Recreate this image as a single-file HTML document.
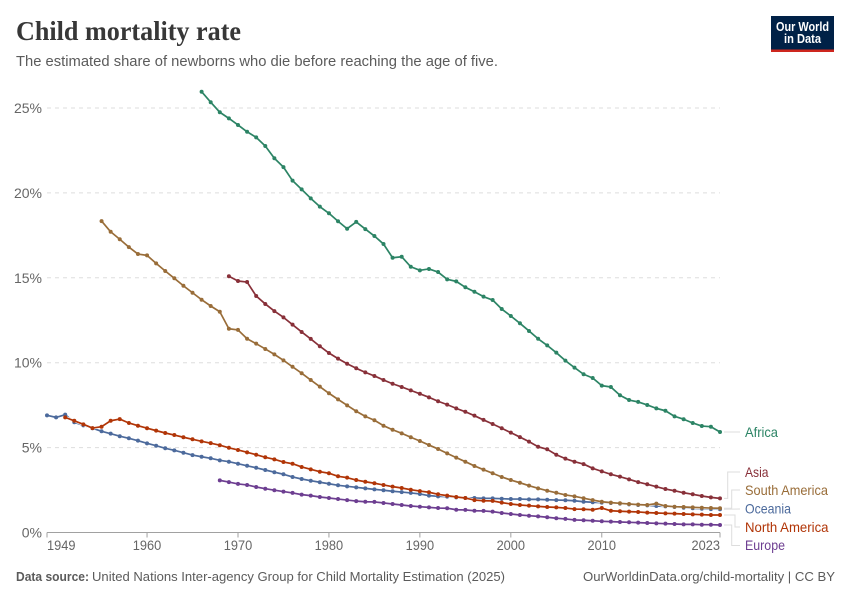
<!DOCTYPE html>
<html lang="en">
<head>
<meta charset="utf-8">
<title>Child mortality rate</title>
<style>
html,body{margin:0;padding:0;background:#fff;}
svg{display:block;font-family:"Liberation Sans",sans-serif;}
</style>
</head>
<body>
<svg id="chart" xmlns="http://www.w3.org/2000/svg" width="850" height="600" viewBox="0 0 850 600">
  <rect x="0" y="0" width="850" height="600" fill="#fff"/>
  <text x="16" y="40" font-family="'Liberation Serif',serif" font-weight="700" font-size="27.5" fill="#373737" textLength="225" lengthAdjust="spacingAndGlyphs">Child mortality rate</text>
  <text x="16" y="66" font-size="14.5" fill="#5b5b5b" textLength="482" lengthAdjust="spacingAndGlyphs">The estimated share of newborns who die before reaching the age of five.</text>
  <g>
    <rect x="771" y="16" width="63" height="36" fill="#002147"/>
    <rect x="771" y="49.5" width="63" height="2.5" fill="#ce261e"/>
    <text x="802.5" y="31" text-anchor="middle" font-size="12.5" font-weight="700" fill="#fff" textLength="53" lengthAdjust="spacingAndGlyphs">Our World</text>
    <text x="802.5" y="43" text-anchor="middle" font-size="12.5" font-weight="700" fill="#fff" textLength="37" lengthAdjust="spacingAndGlyphs">in Data</text>
  </g>
  <g id="grid"></g>
  <g id="xaxis"></g>
  <g id="yaxis"></g>
  <g id="connectors"></g>
  <g id="series"></g>
  <g id="labels"></g>
  <text x="16" y="581" font-size="13" font-weight="700" fill="#5b5b5b" textLength="73" lengthAdjust="spacingAndGlyphs">Data source:</text>
  <text x="92" y="581" font-size="13" fill="#5b5b5b" textLength="413" lengthAdjust="spacingAndGlyphs">United Nations Inter-agency Group for Child Mortality Estimation (2025)</text>
  <text x="583" y="581" font-size="13" fill="#5b5b5b" textLength="252" lengthAdjust="spacingAndGlyphs">OurWorldinData.org/child-mortality | CC BY</text>
</svg>
<script>
const yTicks = [0, 5, 10, 15, 20, 25];
const xTicks = [1949, 1960, 1970, 1980, 1990, 2000, 2010, 2023];

const oceaniaStart = 1949;
const oceaniaValues = [6.9,6.78,6.94,6.49,6.31,6.14,5.96,5.82,5.67,5.55,5.41,5.25,5.11,4.96,4.84,4.7,4.56,4.46,4.37,4.25,4.17,4.05,3.93,3.81,3.68,3.55,3.43,3.27,3.15,3.05,2.96,2.87,2.78,2.72,2.66,2.6,2.54,2.49,2.43,2.38,2.33,2.27,2.17,2.13,2.11,2.07,2.03,2.03,2.01,2.01,1.99,1.97,1.97,1.95,1.95,1.93,1.91,1.9,1.87,1.81,1.78,1.76,1.74,1.7,1.66,1.62,1.6,1.56,1.54,1.5,1.46,1.43,1.4,1.38,1.37];

const europeStart = 1968;
const europeValues = [3.07,2.97,2.86,2.8,2.68,2.58,2.49,2.41,2.33,2.23,2.17,2.09,2.03,1.97,1.91,1.85,1.81,1.8,1.74,1.68,1.62,1.56,1.52,1.48,1.44,1.43,1.34,1.33,1.28,1.27,1.23,1.15,1.09,1.03,0.99,0.95,0.9,0.84,0.8,0.74,0.72,0.69,0.66,0.64,0.62,0.6,0.58,0.56,0.54,0.52,0.5,0.48,0.48,0.46,0.46,0.44];

const northAmericaStart = 1951;
const northAmericaValues = [6.78,6.58,6.37,6.15,6.23,6.58,6.68,6.45,6.29,6.14,6.0,5.86,5.74,5.61,5.49,5.37,5.26,5.14,4.99,4.86,4.72,4.58,4.43,4.31,4.15,4.05,3.86,3.72,3.58,3.49,3.31,3.23,3.09,2.99,2.9,2.8,2.7,2.62,2.52,2.44,2.37,2.25,2.17,2.09,2.03,1.91,1.87,1.86,1.76,1.68,1.62,1.58,1.54,1.5,1.48,1.44,1.38,1.37,1.34,1.44,1.28,1.25,1.23,1.21,1.17,1.15,1.13,1.11,1.09,1.07,1.05,1.03,1.03];

const southAmericaStart = 1955;
const southAmericaValues = [18.34,17.71,17.27,16.81,16.4,16.32,15.85,15.4,14.97,14.53,14.12,13.71,13.34,13.0,12.0,11.93,11.41,11.12,10.81,10.49,10.14,9.76,9.38,8.98,8.59,8.2,7.84,7.49,7.14,6.84,6.61,6.29,6.05,5.84,5.61,5.39,5.15,4.92,4.66,4.41,4.17,3.92,3.7,3.49,3.27,3.09,2.93,2.76,2.6,2.46,2.34,2.21,2.13,2.02,1.91,1.81,1.76,1.72,1.68,1.64,1.62,1.7,1.56,1.52,1.5,1.48,1.46,1.44,1.43];

const asiaStart = 1969;
const asiaValues = [15.09,14.81,14.75,13.93,13.46,13.04,12.67,12.24,11.81,11.4,10.97,10.57,10.24,9.94,9.67,9.43,9.22,8.98,8.76,8.57,8.37,8.17,7.96,7.73,7.53,7.31,7.11,6.88,6.63,6.39,6.14,5.88,5.62,5.35,5.05,4.9,4.58,4.35,4.17,4.03,3.78,3.6,3.43,3.29,3.13,2.97,2.84,2.7,2.56,2.46,2.34,2.25,2.15,2.07,2.01];

const africaStart = 1966;
const africaValues = [25.96,25.34,24.75,24.39,24.0,23.6,23.27,22.76,22.04,21.52,20.72,20.21,19.68,19.19,18.8,18.33,17.89,18.29,17.87,17.46,16.99,16.18,16.24,15.65,15.44,15.52,15.34,14.91,14.79,14.44,14.18,13.89,13.69,13.16,12.75,12.32,11.87,11.41,11.02,10.59,10.12,9.71,9.32,9.1,8.65,8.57,8.08,7.8,7.69,7.51,7.31,7.17,6.84,6.67,6.45,6.27,6.23,5.92];

const seriesNames = ['Oceania','Europe','North America','Asia','Africa','South America'];
const seriesStarts = [oceaniaStart,europeStart,northAmericaStart,asiaStart,africaStart,southAmericaStart];
const seriesValues = [oceaniaValues,europeValues,northAmericaValues,asiaValues,africaValues,southAmericaValues];

const SVGNS = 'http://www.w3.org/2000/svg';
const colors = {'Africa':'#2c8465','Asia':'#883039','South America':'#996d39','Oceania':'#4c6a9c','North America':'#b13507','Europe':'#6d3e91'};
const labelStyle = {
  'Africa':{y:437,w:33,elbow:null},
  'Asia':{y:477,w:23.5,elbow:727.7,ly:472},
  'South America':{y:495,w:83,elbow:731.7,ly:490},
  'Oceania':{y:513.5,w:46,elbow:null,ly:509},
  'North America':{y:532,w:83.5,elbow:735,ly:527},
  'Europe':{y:550,w:40,elbow:731.7,ly:545.5}
};

function xScale(year){ return 47 + (year - 1949) * (720 - 47) / (2023 - 1949); }
function yScale(v){ return 532.5 - v * (532.5 - 108) / 25; }

function make(tag, attrs, parent, text){
  const el = document.createElementNS(SVGNS, tag);
  for (const k in attrs) el.setAttribute(k, attrs[k]);
  if (text !== undefined) el.textContent = text;
  parent.appendChild(el);
  return el;
}
function slug(s){ return String(s).toLowerCase().replace(/[^a-z0-9]+/g,'-'); }

const grid = document.getElementById('grid');
const yaxis = document.getElementById('yaxis');
yTicks.forEach(function(t){
  const y = yScale(t);
  if (t !== 0) {
    const line = make('line', {x1:47, x2:720, y1:y, y2:y, stroke:'#dddddd', 'stroke-width':1, 'stroke-dasharray':'4,4'}, grid);
    
    
  }
  const label = make('text', {x:42, y:y + 5, 'text-anchor':'end', 'font-size':14, fill:'#666666'}, yaxis, t + '%');
  
  
});

const xaxis = document.getElementById('xaxis');
const axisLine = make('line', {x1:47, x2:720, y1:532.5, y2:532.5, stroke:'#a1a1a1', 'stroke-width':1}, xaxis);


xTicks.forEach(function(t, i){
  const x = xScale(t);
  const tick = make('line', {x1:x, x2:x, y1:532.5, y2:537.5, stroke:'#a1a1a1', 'stroke-width':1}, xaxis);
  
  
  const anchor = i === 0 ? 'start' : (i === xTicks.length - 1 ? 'end' : 'middle');
  const label = make('text', {x:x, y:550, 'text-anchor':anchor, 'font-size':14, fill:'#666666', textLength:28.5, lengthAdjust:'spacingAndGlyphs'}, xaxis, String(t));
  
  
});

const seriesGroup = document.getElementById('series');
const connectors = document.getElementById('connectors');
const labels = document.getElementById('labels');
seriesNames.forEach(function(name, i){
  const start = seriesStarts[i];
  const values = seriesValues[i];
  const color = colors[name];
  const g = make('g', {}, seriesGroup);
  
  
  const pts = values.map(function(v, j){ return xScale(start + j).toFixed(2) + ',' + yScale(v).toFixed(2); }).join(' ');
  const halo = make('polyline', {points:pts, fill:'none', stroke:'#fff', 'stroke-width':3, 'stroke-linejoin':'round'}, g);
  
  
  const line = make('polyline', {points:pts, fill:'none', stroke:color, 'stroke-width':1.7, 'stroke-linejoin':'round'}, g);
  
  
  values.forEach(function(v, j){
    const year = start + j;
    const dot = make('circle', {cx:xScale(year), cy:yScale(v), r:2, fill:color}, g);
    
    
  });

  const st = labelStyle[name];
  const endY = yScale(values[values.length - 1]);
  const ly = st.ly === undefined ? endY : st.ly;
  const d = st.elbow
    ? 'M724 ' + endY + 'H' + st.elbow + 'V' + ly + 'H740'
    : 'M724 ' + endY + 'L740 ' + ly;
  const conn = make('path', {d:d, fill:'none', stroke:'#dddddd', 'stroke-width':1}, connectors);
  
  
  const lab = make('text', {x:745, y:st.y, 'font-size':14, fill:color, textLength:st.w, lengthAdjust:'spacingAndGlyphs'}, labels, name);
  
  
});
</script>
</body>
</html>
